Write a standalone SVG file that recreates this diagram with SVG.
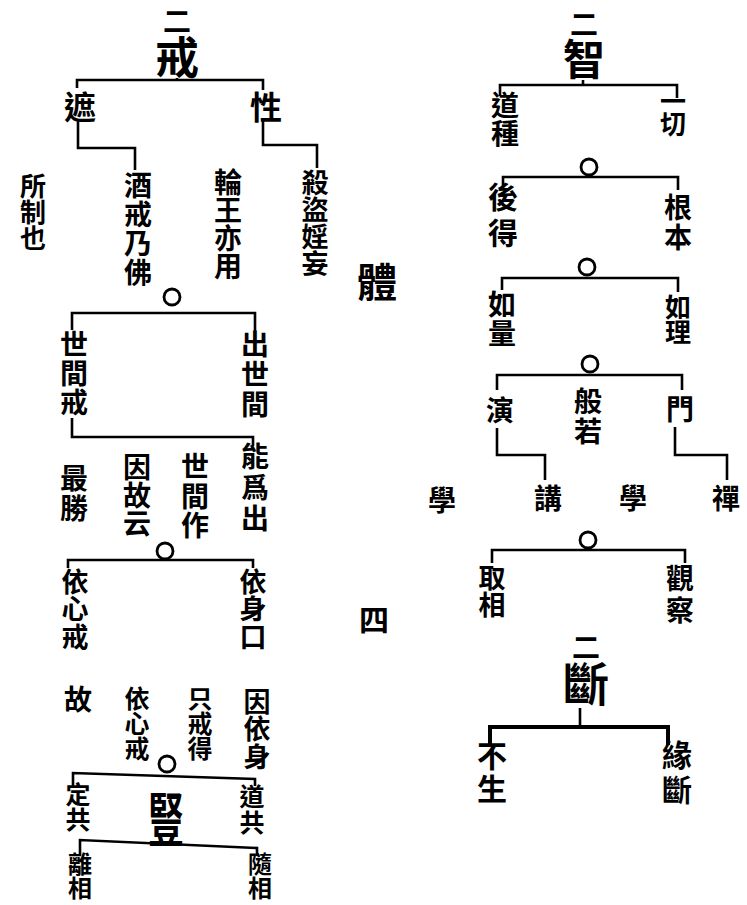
<svg xmlns="http://www.w3.org/2000/svg" width="747" height="905" viewBox="0 0 747 905">
<style>
text{font-family:"Noto Sans CJK TC","Noto Sans CJK JP",sans-serif;font-weight:700;fill:#000;text-anchor:middle;dominant-baseline:central}
.v{writing-mode:vertical-rl}
.ti{text-anchor:start}
.s{font-size:28px}
.n{font-size:32px}
.c{fill:none;stroke:#000;stroke-width:2.8}
.l{fill:none;stroke:#000;stroke-width:2.6;stroke-linejoin:miter}
.h{stroke-width:4}
</style>
<rect width="747" height="905" fill="#fff"/>
<g id="connectors">
<path class="l" d="M177 78V80M77 88V80H263V90"/>
<path class="l" d="M78 120V148H135V170"/>
<path class="l" d="M263 120V145H317V168"/>
<circle class="c" cx="172" cy="297" r="8"/>
<path class="l" d="M72 330V313H255V332"/>
<path class="l" d="M72 418V437H253V446"/>
<circle class="c" cx="165" cy="551" r="8"/>
<path class="l" d="M68 568V560H253V568"/>
<circle class="c" cx="167" cy="764" r="8"/>
<path class="l" d="M73 786V773L255 779V786"/>
<path class="l" d="M80 856V840L257 848V856"/>
<path class="l" d="M583 80V85M500 96V85H677V98"/>
<circle class="c" cx="589" cy="167" r="8"/>
<path class="l" d="M503 188V177H678V190"/>
<circle class="c" cx="587" cy="267" r="8"/>
<path class="l" d="M502 290V278H678V292"/>
<circle class="c" cx="590" cy="364" r="8"/>
<path class="l" d="M497 390V375H682V390"/>
<path class="l" d="M497 428V455H545V480"/>
<path class="l" d="M675 427V455H727V480"/>
<circle class="c" cx="588" cy="540" r="8"/>
<path class="l" d="M492 563V550H685V563"/>
<path class="l" d="M580 708V727"/>
<path class="l h" d="M490 745V727H668V745"/>
</g>
<g id="n-jie"><text class="v ti" x="177" y="7"><tspan style="font-size:28px">二</tspan><tspan style="font-size:44px">戒</tspan></text></g>
<g id="n-zhe"><text x="80" y="105" class="n">遮</text></g>
<g id="n-xing"><text x="266" y="105" class="n">性</text></g>
<g id="n-suozhiye"><text class="v" x="33" y="212" style="font-size:26px">所制也</text></g>
<g id="n-jiujie"><text class="v" x="138" y="229" style="font-size:28px;letter-spacing:1px">酒戒乃佛</text></g>
<g id="n-lunwang"><text class="v" x="228" y="224" style="font-size:28px">輪王亦用</text></g>
<g id="n-shadao"><text class="v" x="315" y="223" style="font-size:27px">殺盜婬妄</text></g>
<g id="n-margin1"><text x="377" y="280" style="font-size:40px">體</text></g>
<g id="n-shijianjie"><text class="v" x="74" y="374" style="font-size:28px;letter-spacing:1px">世間戒</text></g>
<g id="n-chushijian"><text class="v" x="255" y="375" style="font-size:28px;letter-spacing:2px">出世間</text></g>
<g id="n-nengwei"><text class="v" x="255" y="489" style="font-size:28px;letter-spacing:3px">能爲出</text></g>
<g id="n-shijianzuo"><text class="v" x="195" y="497" style="font-size:28px;letter-spacing:1.5px">世間作</text></g>
<g id="n-yingu"><text class="v" x="137" y="495" style="font-size:28px">因故云</text></g>
<g id="n-zuisheng"><text class="v" x="74" y="494" style="font-size:28px;letter-spacing:2px">最勝</text></g>
<g id="n-yixin"><text class="v" x="75" y="609" style="font-size:27px;letter-spacing:.5px">依心戒</text></g>
<g id="n-yishen"><text class="v" x="253" y="609" style="font-size:27px;letter-spacing:.5px">依身口</text></g>
<g id="n-margin4"><text x="374" y="618" style="font-size:30px">四</text></g>
<g id="n-gu"><text x="78" y="698" class="s">故</text></g>
<g id="n-yixin2"><text class="v" x="137" y="723" style="font-size:25px">依心戒</text></g>
<g id="n-zhijie"><text class="v" x="200" y="723" style="font-size:25px">只戒得</text></g>
<g id="n-yinyishen"><text class="v" x="257" y="729" style="font-size:27px;letter-spacing:.5px">因依身</text></g>
<g id="n-dinggong"><text class="v" x="78" y="807" style="font-size:25px">定共</text></g>
<g id="n-shu"><text x="0" y="0" style="font-size:36px" transform="translate(166 816) scale(1 1.6)">豎</text></g>
<g id="n-daogong"><text class="v" x="252" y="810" style="font-size:25px;letter-spacing:1px">道共</text></g>
<g id="n-lixiang"><text class="v" x="80" y="876" style="font-size:24px">離相</text></g>
<g id="n-suixiang"><text class="v" x="260" y="876" style="font-size:24px">隨相</text></g>
<g id="n-zhi"><text class="v ti" x="584" y="10"><tspan style="font-size:28px">二</tspan><tspan style="font-size:42px">智</tspan></text></g>
<g id="n-daozhong"><text class="v" x="505" y="119" style="font-size:28px">道種</text></g>
<g id="n-yiqie"><text class="v" x="673" y="111" style="font-size:26px;letter-spacing:-3px">一切</text></g>
<g id="n-houde"><text class="v" x="503" y="218" style="font-size:30px;letter-spacing:6px">後得</text></g>
<g id="n-genben"><text class="v" x="678" y="223" style="font-size:28px;letter-spacing:2px">根本</text></g>
<g id="n-ruliang"><text class="v" x="502" y="319" style="font-size:28px;letter-spacing:1px">如量</text></g>
<g id="n-ruli"><text class="v" x="678" y="319" style="font-size:26px;letter-spacing:-1px">如理</text></g>
<g id="n-yan"><text x="500" y="409" class="s">演</text></g>
<g id="n-bore"><text class="v" x="588" y="417" style="font-size:28px;letter-spacing:2px">般若</text></g>
<g id="n-men"><text x="680" y="408" class="s">門</text></g>
<g id="n-xue1"><text x="442" y="499" class="s">學</text></g>
<g id="n-jiang"><text x="548" y="497" class="s">講</text></g>
<g id="n-xue2"><text x="633" y="497" class="s">學</text></g>
<g id="n-chan"><text x="726" y="497" class="s">禪</text></g>
<g id="n-quxiang"><text class="v" x="492" y="591" style="font-size:27px">取相</text></g>
<g id="n-guancha"><text class="v" x="680" y="596" style="font-size:28px;letter-spacing:4px">觀察</text></g>
<g id="n-duan"><text class="v ti" x="586" y="633"><tspan style="font-size:28px">二</tspan><tspan style="font-size:46px">斷</tspan></text></g>
<g id="n-busheng"><text class="v" x="492" y="774" style="font-size:30px;letter-spacing:3px">不生</text></g>
<g id="n-yuanduan"><text class="v" x="677" y="775" style="font-size:30px;letter-spacing:5px">緣斷</text></g>
</svg>
